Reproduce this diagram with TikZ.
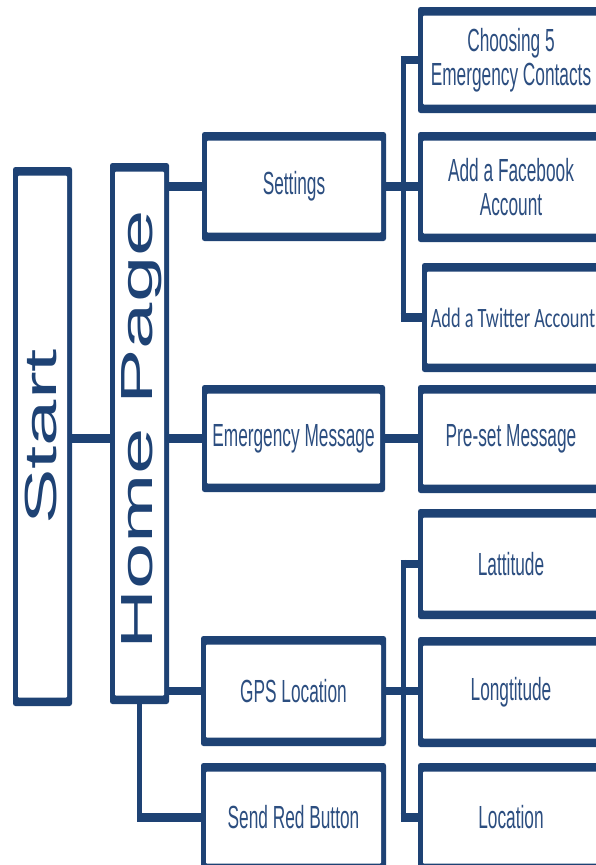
\documentclass[tikz,border=0pt]{standalone}
\usepackage{fontspec}
\setmainfont{Liberation Sans}
\newfontfamily\hfont[FakeStretch=0.54]{Liberation Sans}
\newfontfamily\vfont[FakeStretch=1.85]{Liberation Sans}
\newfontfamily\cfont[FakeStretch=0.655]{Carlito}
\definecolor{navy}{RGB}{30,66,116}
\definecolor{txt}{RGB}{44,78,128}
\tikzset{
  box/.style={inner sep=0pt, fill=navy, rounded corners=2.5pt, text=txt, align=center,
    font=\hfont\fontsize{32}{34}\selectfont,
    path picture={\fill[white, rounded corners=1pt]
      ([xshift=5pt,yshift=-8.5pt]path picture bounding box.north west) rectangle
      ([xshift=-5pt,yshift=8.5pt]path picture bounding box.south east);}},
  vtext/.style={rotate=90, text=navy, font=\vfont\fontsize{45}{50}\selectfont,
    inner sep=0pt, text depth=0pt},
  hl/.style={draw=navy, line width=8.5pt},
  vl/.style={draw=navy, line width=5pt}
}
\begin{document}
\begin{tikzpicture}[x=1pt, y=-1pt]
\useasboundingbox (0,0) rectangle (596,865);
\fill[white] (0,0) rectangle (596,865);
\clip (0,0) rectangle (596,865);

% left column
\node[box, minimum width=59pt, minimum height=539pt] (start) at (42.5,436.5) {};
\node[vtext] (starttxt) at (41,437) {Start};
\node[box, minimum width=59pt, minimum height=541pt] (home) at (139.5,433.5) {};
\node[vtext] (hometxt) at (137,430) {Home Page};

% middle column
\node[box, minimum width=184pt, minimum height=109pt] (settings) at (294,186.5) {Settings};
\node[box, minimum width=183pt, minimum height=107pt] (emsg) at (293.5,438.5) {Emergency Message};
\node[box, minimum width=185pt, minimum height=110pt] (gps) at (293.5,691) {GPS Location};
\node[box, minimum width=185pt, minimum height=109pt] (red) at (293.5,817.5) {Send Red Button};

% right column
\node[box, minimum width=186pt, minimum height=106pt] (choose) at (511,60) {Choosing 5\\Emergency Contacts};
\node[box, minimum width=186pt, minimum height=110pt] (facebook) at (511,187) {Add a Facebook\\Account};
\node[box, minimum width=182pt, minimum height=109pt, font=\cfont\fontsize{28}{30}\selectfont] (twitter) at (513,317.5) {Add a Twitter Account};
\node[box, minimum width=186pt, minimum height=108pt] (preset) at (511,439) {Pre-set Message};
\node[box, minimum width=186pt, minimum height=110pt] (lat) at (511,564) {Lattitude};
\node[box, minimum width=186pt, minimum height=110pt] (long) at (511,692) {Longtitude};
\node[box, minimum width=186pt, minimum height=109pt] (loc) at (511,817.5) {Location};

% connectors from start / home
\draw[hl] (start.east |- emsg.west) -- (home.west |- emsg.west);
\draw[hl] (home.east |- settings.west) -- (settings.west);
\draw[hl] (home.east |- emsg.west) -- (emsg.west);
\draw[hl] (home.east |- gps.west) -- (gps.west);
\coordinate (rc) at (home.south |- red.west);
\draw[vl] (home.south) -- ([yshift=-4.25pt]rc);
\draw[hl] ([xshift=-2.5pt]rc) -- (red.west);

% settings bracket
\coordinate (bx) at (403,0);
\coordinate (t1) at (bx |- choose.west);
\coordinate (t2) at (bx |- twitter.west);
\draw[hl] (settings.east) -- (settings.east -| facebook.west);
\draw[vl] ([yshift=4.25pt]t1) -- ([yshift=-4.25pt]t2);
\draw[hl] ([xshift=-2.5pt]t1) -- (choose.west);
\draw[hl] ([xshift=-2.5pt]t2) -- (twitter.west);

% message
\draw[hl] (emsg.east) -- (emsg.east -| preset.west);

% gps bracket
\coordinate (t3) at (bx |- lat.west);
\coordinate (t4) at (bx |- loc.west);
\draw[hl] (gps.east) -- (gps.east -| long.west);
\draw[vl] ([yshift=4.25pt]t3) -- ([yshift=-4.25pt]t4);
\draw[hl] ([xshift=-2.5pt]t3) -- (lat.west);
\draw[hl] ([xshift=-2.5pt]t4) -- (loc.west);
\end{tikzpicture}
\end{document}
